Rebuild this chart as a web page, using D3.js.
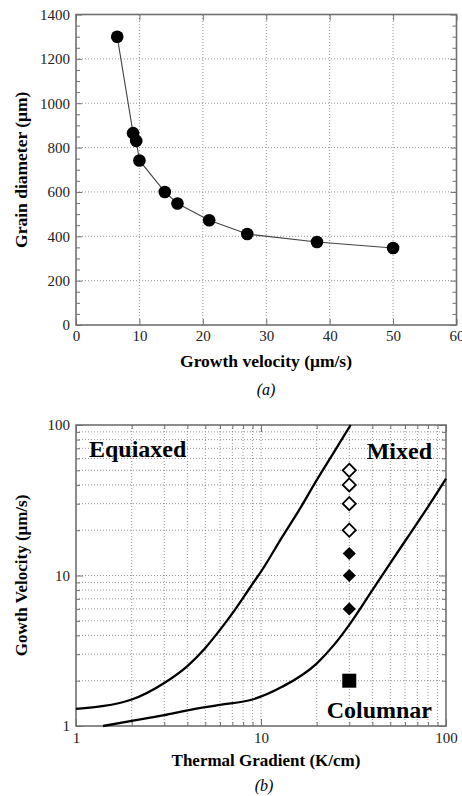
<!DOCTYPE html>
<html>
<head>
<meta charset="utf-8">
<script src="https://cdn.jsdelivr.net/npm/d3@7"></script>
<style>
  body { margin: 0; background: #fff; }
  text { font-family: "Liberation Serif", "Times New Roman", serif; }
</style>
</head>
<body>
<div id="chart"></div>
<script>
// ---- data (a): grain diameter vs growth velocity
const velocity = [6.5, 9, 9.5, 10, 14, 16, 21, 27, 38, 50];
const grainDiameter = [1300, 865, 830, 742, 600, 548, 472, 410, 374, 347];
const ticksA_x = [0, 10, 20, 30, 40, 50, 60];
const ticksA_y = [0, 200, 400, 600, 800, 1000, 1200, 1400];

// ---- data (b): growth velocity vs thermal gradient
const equiaxedG = [1, 2, 3, 4, 5, 6, 7, 8, 9, 10, 13, 16, 20, 25, 30.5];
const equiaxedV = [1.3, 1.5, 1.93, 2.5, 3.3, 4.35, 5.6, 7.1, 8.8, 10.6, 18, 27, 43, 67, 100];
const columnarG = [1.4, 2, 3, 4, 6, 9, 13, 20, 25, 30, 40, 50, 64, 82, 100];
const columnarV = [1, 1.08, 1.18, 1.27, 1.38, 1.5, 1.82, 2.6, 3.5, 4.7, 8, 12.1, 19, 30, 44];
const openG = [30, 30, 30, 30];
const openV = [50, 40, 30, 20];
const filledG = [30, 30, 30];
const filledV = [14, 10, 6];
const squareG = [30];
const squareV = [2];
const ticksB = [1, 10, 100];

const svg = d3.select("#chart")
  .append("svg")
  .attr("width", 462)
  .attr("height", 796);

const frameColor = "#707070";
const gridColor = "#8a8a8a";
const serif = "'Liberation Serif', 'Times New Roman', serif";

///////////////////////
// PLOT (a) ///////////
///////////////////////
const xa = d3.scaleLinear().domain([0, 60]).range([76, 456.5]);
const ya = d3.scaleLinear().domain([0, 1400]).range([325, 14.5]);

const ga = svg.append("g");

// dotted grid
ga.selectAll(".gx")
  .data(ticksA_x.slice(1, -1))
  .join("line")
  .attr("x1", d => xa(d)).attr("x2", d => xa(d))
  .attr("y1", ya(0)).attr("y2", ya(1400))
  .attr("stroke", gridColor).attr("stroke-width", 0.9)
  .attr("stroke-dasharray", "1,2");
ga.selectAll(".gy")
  .data(ticksA_y.slice(1, -1))
  .join("line")
  .attr("x1", xa(0)).attr("x2", xa(60))
  .attr("y1", d => ya(d)).attr("y2", d => ya(d))
  .attr("stroke", gridColor).attr("stroke-width", 0.9)
  .attr("stroke-dasharray", "1,2");

// minor ticks on y (every 50), inward, both sides
const minorA = d3.range(50, 1400, 50).filter(d => d % 200 !== 0);
ga.append("g").attr("transform", `translate(${xa(0)},0)`)
  .call(d3.axisLeft(ya).tickValues(minorA).tickSize(-4).tickFormat(""));
ga.append("g").attr("transform", `translate(${xa(60)},0)`)
  .call(d3.axisRight(ya).tickValues(minorA).tickSize(-4).tickFormat(""));
ga.append("g").attr("transform", `translate(${xa(60)},0)`)
  .call(d3.axisRight(ya).tickValues(ticksA_y).tickSize(-6).tickFormat(""));
ga.append("g").attr("transform", `translate(0,${ya(1400)})`)
  .call(d3.axisTop(xa).tickValues(ticksA_x).tickSize(-6).tickFormat(""));

// main axes
ga.append("g")
  .attr("transform", `translate(${xa(0)},0)`)
  .call(d3.axisLeft(ya).tickValues(ticksA_y).tickSize(-6).tickPadding(6)
    .tickFormat(d3.format("d")).tickSizeOuter(0));
ga.append("g")
  .attr("transform", `translate(0,${ya(0)})`)
  .call(d3.axisBottom(xa).tickValues(ticksA_x).tickSize(-6).tickPadding(5)
    .tickFormat(d3.format("d")).tickSizeOuter(0));

// frame
ga.append("rect")
  .attr("x", xa(0)).attr("y", ya(1400))
  .attr("width", xa(60) - xa(0)).attr("height", ya(0) - ya(1400))
  .attr("fill", "none").attr("stroke", frameColor).attr("stroke-width", 1.6);

const lineA = d3.line()
  .x((d, i) => xa(velocity[i]))
  .y(d => ya(d));
ga.append("path")
  .attr("d", lineA(grainDiameter))
  .attr("fill", "none").attr("stroke", "#444").attr("stroke-width", 1.1);

ga.selectAll(".dot")
  .data(grainDiameter)
  .join("circle")
  .attr("cx", (d, i) => xa(velocity[i]))
  .attr("cy", d => ya(d))
  .attr("r", 6.3)
  .attr("fill", "#000");

ga.append("text")
  .attr("x", 266).attr("y", 367)
  .attr("text-anchor", "middle")
  .style("font-size", "17.5px").style("font-weight", "bold")
  .text("Growth velocity (μm/s)");
ga.append("text")
  .attr("transform", `translate(27,${(ya(0) + ya(1400)) / 2}) rotate(-90)`)
  .attr("text-anchor", "middle")
  .style("font-size", "17.5px").style("font-weight", "bold")
  .text("Grain diameter (μm)");
ga.append("text")
  .attr("x", 266).attr("y", 395)
  .attr("text-anchor", "middle")
  .style("font-size", "16px").style("font-style", "italic")
  .text("(a)");

///////////////////////
// PLOT (b) ///////////
///////////////////////
const xb = d3.scaleLog().domain([1, 100]).range([76, 446]);
const yb = d3.scaleLog().domain([1, 100]).range([726, 425]);

const gb = svg.append("g");
const minorB = [2, 3, 4, 5, 6, 7, 8, 9, 20, 30, 40, 50, 60, 70, 80, 90];
const gridB = minorB.concat([10]);

gb.selectAll(".gx")
  .data(gridB)
  .join("line")
  .attr("x1", d => xb(d)).attr("x2", d => xb(d))
  .attr("y1", yb(1)).attr("y2", yb(100))
  .attr("stroke", gridColor).attr("stroke-width", 0.9)
  .attr("stroke-dasharray", "1,2");
gb.selectAll(".gy")
  .data(gridB)
  .join("line")
  .attr("x1", xb(1)).attr("x2", xb(100))
  .attr("y1", d => yb(d)).attr("y2", d => yb(d))
  .attr("stroke", gridColor).attr("stroke-width", 0.9)
  .attr("stroke-dasharray", "1,2");

// inward ticks on all sides
gb.append("g").attr("transform", `translate(${xb(1)},0)`)
  .call(d3.axisLeft(yb).tickValues(minorB).tickSize(-4).tickFormat(""));
gb.append("g").attr("transform", `translate(${xb(100)},0)`)
  .call(d3.axisRight(yb).tickValues(minorB).tickSize(-4).tickFormat(""));
gb.append("g").attr("transform", `translate(${xb(100)},0)`)
  .call(d3.axisRight(yb).tickValues(ticksB).tickSize(-7).tickFormat(""));
gb.append("g").attr("transform", `translate(0,${yb(1)})`)
  .call(d3.axisBottom(xb).tickValues(minorB).tickSize(-4).tickFormat(""));
gb.append("g").attr("transform", `translate(0,${yb(100)})`)
  .call(d3.axisTop(xb).tickValues(minorB).tickSize(-4).tickFormat(""));
gb.append("g").attr("transform", `translate(0,${yb(100)})`)
  .call(d3.axisTop(xb).tickValues(ticksB).tickSize(-7).tickFormat(""));

gb.append("g")
  .attr("transform", `translate(${xb(1)},0)`)
  .call(d3.axisLeft(yb).tickValues(ticksB).tickSize(-7).tickPadding(6)
    .tickFormat(d3.format("d")).tickSizeOuter(0));
gb.append("g")
  .attr("transform", `translate(0,${yb(1)})`)
  .call(d3.axisBottom(xb).tickValues(ticksB).tickSize(-7).tickPadding(6)
    .tickFormat(d3.format("d")).tickSizeOuter(0));

gb.append("rect")
  .attr("x", xb(1)).attr("y", yb(100))
  .attr("width", xb(100) - xb(1)).attr("height", yb(1) - yb(100))
  .attr("fill", "none").attr("stroke", frameColor).attr("stroke-width", 1.6);

// boundary curves
const lineB = d3.line().curve(d3.curveMonotoneX);
gb.append("path")
  .attr("d", lineB(equiaxedG.map((g, i) => [xb(g), yb(equiaxedV[i])])))
  .attr("fill", "none").attr("stroke", "#000").attr("stroke-width", 2.3)
  .attr("stroke-linejoin", "round");
gb.append("path")
  .attr("d", lineB(columnarG.map((g, i) => [xb(g), yb(columnarV[i])])))
  .attr("fill", "none").attr("stroke", "#000").attr("stroke-width", 2.3)
  .attr("stroke-linejoin", "round");

// markers
const diamond = d3.symbol().type(d3.symbolDiamond2).size(110);
gb.selectAll(".open")
  .data(openV)
  .join("path")
  .attr("transform", (d, i) => `translate(${xb(openG[i])},${yb(d)})`)
  .attr("d", diamond)
  .attr("fill", "#fff").attr("stroke", "#000").attr("stroke-width", 1.8);
gb.selectAll(".filled")
  .data(filledV)
  .join("path")
  .attr("transform", (d, i) => `translate(${xb(filledG[i])},${yb(d)})`)
  .attr("d", diamond)
  .attr("fill", "#000");
gb.selectAll(".square")
  .data(squareV)
  .join("rect")
  .attr("x", (d, i) => xb(squareG[i]) - 7)
  .attr("y", d => yb(d) - 7)
  .attr("width", 14).attr("height", 14)
  .attr("fill", "#000");

// region labels
gb.append("text").attr("x", 89).attr("y", 457)
  .style("font-size", "24px").style("font-weight", "bold").text("Equiaxed");
gb.append("text").attr("x", 432).attr("y", 459).attr("text-anchor", "end")
  .style("font-size", "24px").style("font-weight", "bold").text("Mixed");
gb.append("text").attr("x", 432).attr("y", 718).attr("text-anchor", "end")
  .style("font-size", "24px").style("font-weight", "bold").text("Columnar");

gb.append("text")
  .attr("x", 266).attr("y", 766)
  .attr("text-anchor", "middle")
  .style("font-size", "17px").style("font-weight", "bold")
  .text("Thermal Gradient (K/cm)");
gb.append("text")
  .attr("transform", `translate(27,${(yb(1) + yb(100)) / 2}) rotate(-90)`)
  .attr("text-anchor", "middle")
  .style("font-size", "17px").style("font-weight", "bold")
  .text("Gowth Velocity (μm/s)");
gb.append("text")
  .attr("x", 264).attr("y", 791)
  .attr("text-anchor", "middle")
  .style("font-size", "16px").style("font-style", "italic")
  .text("(b)");

// tick label styling
svg.selectAll(".tick text")
  .attr("font-family", serif)
  .style("font-family", serif)
  .style("font-size", "15px")
  .attr("fill", "#222");
svg.selectAll(".domain").remove();
svg.selectAll(".tick line").attr("stroke", frameColor).attr("stroke-width", 1);
</script>
</body>
</html>
